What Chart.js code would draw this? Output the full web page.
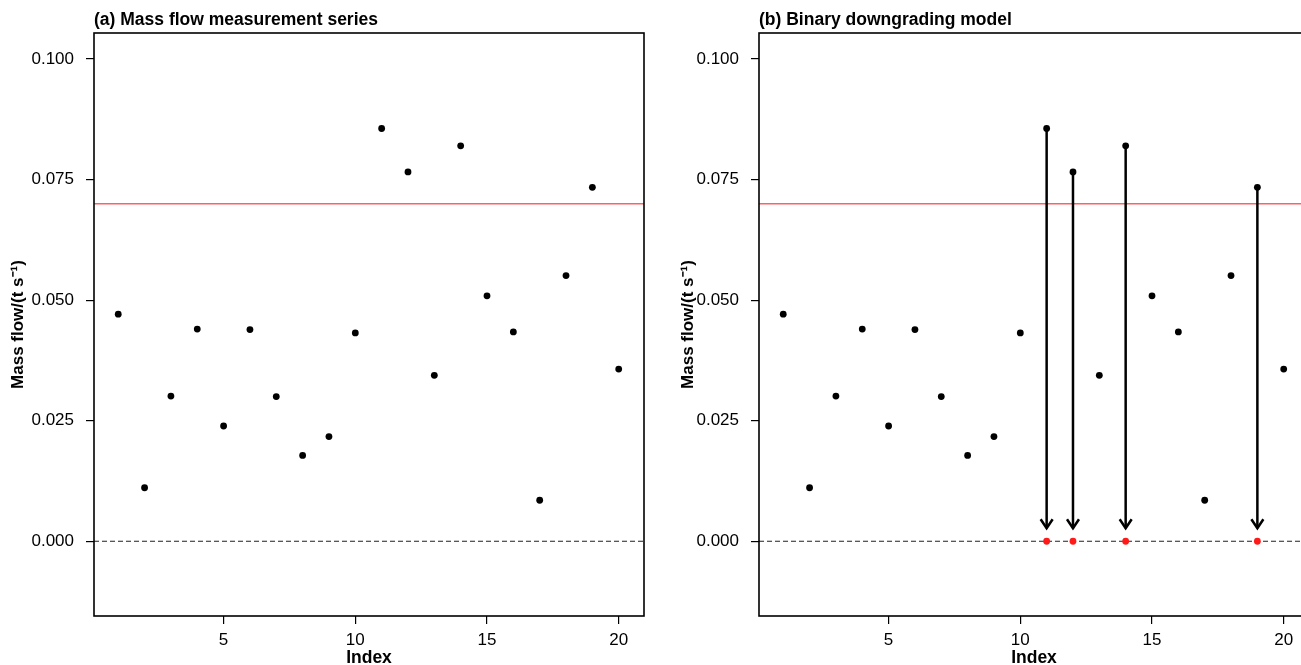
<!DOCTYPE html>
<html>
<head>
<meta charset="utf-8">
<script src="https://cdn.jsdelivr.net/npm/chart.js@4.4.0/dist/chart.umd.min.js"></script>
<style>
  html, body { margin: 0; padding: 0; background: #fff; overflow: hidden; width: 1301px; height: 665px; }
  .panel { position: absolute; top: 0; width: 660px; height: 665px; }
  #panelA { left: 0; }
  #panelB { left: 665px; }
</style>
</head>
<body>
<div class="panel" id="panelA"><canvas id="chartA" width="660" height="665"></canvas></div>
<div class="panel" id="panelB"><canvas id="chartB" width="660" height="665"></canvas></div>
<script>
// measurement index and mass flow (t/s)
const indexes = [1, 2, 3, 4, 5, 6, 7, 8, 9, 10, 11, 12, 13, 14, 15, 16, 17, 18, 19, 20];
const massFlow = [0.0471, 0.0111, 0.0301, 0.0440, 0.0239, 0.0439, 0.0300, 0.0178, 0.0217, 0.0432,
                  0.0856, 0.0766, 0.0344, 0.0820, 0.0509, 0.0434, 0.0085, 0.0551, 0.0734, 0.0357];
const threshold = 0.07;
const baseline = 0;
const yTicks = [0, 0.025, 0.05, 0.075, 0.1];
const xTicks = [5, 10, 15, 20];
const xRange = [0.08, 20.96];
const yRange = [-0.0155, 0.1054];
const panelTitles = ['(a) Mass flow measurement series', '(b) Binary downgrading model'];
const xLabel = 'Index';
const yLabel = 'Mass flow/(t s\u207B\u00B9)';

// points above the limit get downgraded to zero
const downIdx = [];
massFlow.forEach((v, i) => { if (v > threshold) downIdx.push(i); });

Chart.defaults.font.family = '"Liberation Sans", Arial, sans-serif';
Chart.defaults.color = '#000';

const framePlugin = {
  id: 'frame',
  afterDatasetsDraw(chart) {
    const a = chart.chartArea;
    const ctx = chart.ctx;
    ctx.save();
    ctx.strokeStyle = '#000';
    ctx.lineWidth = 1.6;
    ctx.strokeRect(a.left, a.top, a.right - a.left, a.bottom - a.top);
    ctx.restore();
  }
};

const arrowPlugin = {
  id: 'arrows',
  afterDatasetsDraw(chart) {
    const ctx = chart.ctx;
    const x = chart.scales.x, y = chart.scales.y;
    ctx.save();
    ctx.strokeStyle = '#000';
    ctx.lineWidth = 2.5;
    downIdx.forEach(i => {
      const px = x.getPixelForValue(indexes[i]);
      const top = y.getPixelForValue(massFlow[i]);
      const tip = y.getPixelForValue(baseline) - 13;
      ctx.beginPath();
      ctx.moveTo(px, top);
      ctx.lineTo(px, tip);
      ctx.stroke();
      ctx.beginPath();
      ctx.moveTo(px - 6, tip - 9);
      ctx.lineTo(px, tip);
      ctx.lineTo(px + 6, tip - 9);
      ctx.stroke();
    });
    ctx.restore();
  }
};

function makeChart(id, title, yTitlePad, downgraded) {
  const datasets = [];
  datasets.push({
    type: 'scatter',
    data: indexes.map((v, i) => ({ x: v, y: massFlow[i] })),
    pointRadius: 3.4,
    pointBackgroundColor: '#000',
    pointBorderWidth: 0,
    order: 1
  });
  if (downgraded) {
    datasets.push({
      type: 'scatter',
      data: downIdx.map(i => ({ x: indexes[i], y: baseline })),
      pointRadius: 3.4,
      pointBackgroundColor: '#ff1a1a',
      pointBorderWidth: 0,
      order: 0
    });
  }
  datasets.push({
    type: 'line',
    data: [{ x: xRange[0], y: threshold }, { x: xRange[1], y: threshold }],
    borderColor: '#ff6060',
    borderWidth: 1.6,
    pointRadius: 0,
    order: 3
  });
  datasets.push({
    type: 'line',
    data: [{ x: xRange[0], y: baseline }, { x: xRange[1], y: baseline }],
    borderColor: '#222',
    borderWidth: 1.2,
    borderDash: [5, 3],
    pointRadius: 0,
    order: 4
  });

  return new Chart(document.getElementById(id), {
    data: { datasets },
    options: {
      responsive: false,
      animation: false,
      layout: { padding: { left: 0, right: 16, top: 0, bottom: 0 } },
      plugins: {
        legend: { display: false },
        tooltip: { enabled: false },
        title: {
          display: true,
          text: title,
          align: 'start',
          fullSize: false,
          color: '#000',
          font: { size: 17.5, weight: 'bold' },
          padding: { top: 9.5, bottom: 2.5 }
        }
      },
      scales: {
        x: {
          type: 'linear',
          min: xRange[0],
          max: xRange[1],
          afterBuildTicks: s => { s.ticks = xTicks.map(v => ({ value: v })); },
          afterFit: s => { s.height = 49; },
          ticks: { font: { size: 17 }, color: '#000', padding: 6, maxRotation: 0 },
          grid: { drawOnChartArea: false, drawTicks: true, tickLength: 8, color: '#000', lineWidth: 1.2 },
          border: { display: false },
          title: { display: true, text: xLabel, font: { size: 17.5, weight: 'bold', lineHeight: 0.8 }, padding: 0 }
        },
        y: {
          type: 'linear',
          min: yRange[0],
          max: yRange[1],
          afterBuildTicks: s => { s.ticks = yTicks.map(v => ({ value: v })); },
          afterFit: s => { s.width = 94; },
          ticks: { font: { size: 17 }, color: '#000', padding: 12, callback: v => v.toFixed(3) },
          grid: { drawOnChartArea: false, drawTicks: true, tickLength: 8, color: '#000', lineWidth: 1.2 },
          border: { display: false },
          title: { display: true, text: yLabel, font: { size: 17, weight: 'bold' }, padding: { top: yTitlePad, bottom: 0 } }
        }
      }
    },
    plugins: downgraded ? [framePlugin, arrowPlugin] : [framePlugin]
  });
}

makeChart('chartA', panelTitles[0], 8, false);
makeChart('chartB', panelTitles[1], 13, true);
</script>
</body>
</html>
